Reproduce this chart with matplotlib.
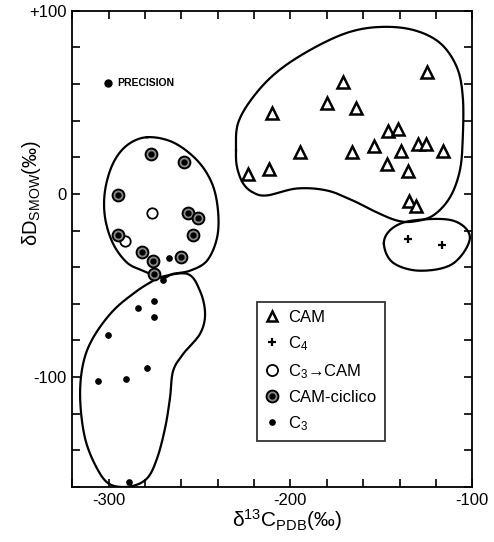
import numpy as np
import matplotlib
matplotlib.use("Agg")
import matplotlib.pyplot as plt
from matplotlib.lines import Line2D

plt.rcParams['font.family'] = ['Liberation Sans', 'DejaVu Sans']
plt.rcParams['mathtext.fontset'] = 'custom'
plt.rcParams['mathtext.rm'] = 'Liberation Sans'
plt.rcParams['mathtext.it'] = 'Liberation Sans:italic'
plt.rcParams['mathtext.bf'] = 'Liberation Sans:bold'

# ---- data (delta13C, deltaD) ----
cam_x = [-125.1, -170.9, -180.1, -164.1, -210.3, -146.5, -141.0, -194.7, -166.3, -153.9,
         -139.2, -130.1, -125.5, -116.3, -146.7, -135.2, -211.6, -223.1, -134.8, -131.0]
cam_y = [66.7, 61.3, 49.8, 47.2, 44.3, 34.2, 35.7, 22.9, 22.9, 26.2,
         23.5, 27.1, 27.1, 23.3, 16.2, 12.5, 13.8, 10.7, -3.6, -6.8]

c4_x = [-135.2, -116.9]
c4_y = [-24.5, -27.8]

c3cam_x = [-276.2, -290.9]
c3cam_y = [-10.5, -25.5]

camcic_x = [-276.6, -258.3, -294.6, -256.4, -250.6, -253.7, -294.6, -281.4, -275.3, -260.1, -274.8]
camcic_y = [22.0, 17.4, -0.3, -10.5, -13.0, -22.2, -22.2, -31.9, -36.4, -34.6, -43.7]

c3_x = [-266.7, -269.8, -274.8, -283.6, -274.9, -300.4, -278.6, -290.2, -305.9, -288.5]
c3_y = [-35.2, -47.0, -58.4, -62.4, -67.0, -77.0, -94.9, -100.9, -102.2, -157.4]

precision = (-300.2, 60.5)

# hand drawn group outlines (control points, closed)
cam_blob = [(-229.9, 23.8), (-228.8, 38.6), (-220.5, 52.9), (-207.4, 66.6), (-189.2, 78.6),
            (-168.9, 88.0), (-150.8, 91.2), (-132.6, 89.6), (-117.8, 82.5), (-108.5, 69.3),
            (-105.2, 52.9), (-105.2, 31.0), (-106.8, 12.9), (-112.3, -1.9), (-121.6, -11.8),
            (-132.6, -15.1), (-141.4, -14.5), (-152.4, -10.1), (-165.6, -3.6), (-179.9, 1.9),
            (-196.4, 3.0), (-212.9, -0.8), (-220.5, 0.8), (-226.0, 5.8), (-229.3, 14.5)]
c4_blob = [(-148.6, -27.1), (-144.2, -18.9), (-132.6, -14.5), (-110.7, -14.5), (-101.3, -23.8),
           (-110.7, -38.1), (-128.8, -41.9), (-143.6, -37.5)]
camcic_blob = [(-278.8, 31.0), (-264.5, 28.2), (-251.3, 18.4), (-243.1, 5.8), (-239.8, -9.0),
               (-240.3, -23.8), (-245.8, -36.4), (-255.2, -41.9), (-264.5, -43.6), (-270.5, -45.8),
               (-281.0, -41.9), (-289.8, -37.5), (-297.5, -27.1), (-301.9, -12.9), (-301.9, 1.9),
               (-297.5, 16.7), (-289.8, 26.6)]
c3_blob = [(-273.3, -45.8), (-256.8, -43.6), (-249.7, -52.9), (-246.9, -65.5), (-249.7, -76.4),
           (-259.0, -87.4), (-264.5, -96.7), (-266.2, -111.5), (-268.9, -127.9), (-273.3, -144.4),
           (-278.8, -155.3), (-288.1, -159.7), (-299.1, -158.6), (-306.3, -149.9), (-312.9, -133.4),
           (-315.6, -111.5), (-314.0, -92.9), (-308.5, -78.6), (-297.5, -63.8), (-284.3, -52.9),
           (-275.5, -47.4)]


def closed_spline(pts, n=20):
    # periodic Catmull-Rom through the control points
    p = np.asarray(pts, dtype=float)
    m = len(p)
    out = []
    t = np.linspace(0, 1, n, endpoint=False)[:, None]
    for i in range(m):
        p0, p1, p2, p3 = p[i - 1], p[i], p[(i + 1) % m], p[(i + 2) % m]
        seg = 0.5 * ((2 * p1) + (-p0 + p2) * t + (2 * p0 - 5 * p1 + 4 * p2 - p3) * t ** 2
                     + (-p0 + 3 * p1 - 3 * p2 + p3) * t ** 3)
        out.append(seg)
    out = np.vstack(out)
    return np.vstack([out, out[:1]])


fig = plt.figure(figsize=(4.94, 5.42), dpi=100)
ax = fig.add_axes([0.146, 0.1015, 0.81, 0.8785])

for blob in [cam_blob, c4_blob, camcic_blob, c3_blob]:
    s = closed_spline(blob)
    ax.plot(s[:, 0], s[:, 1], color='black', lw=1.6, zorder=2)

ax.plot(cam_x, cam_y, ls='none', marker='^', ms=8, mfc='white', mec='black', mew=1.8, zorder=3)
ax.plot(c4_x, c4_y, ls='none', marker='+', ms=6, mec='black', mew=1.6, zorder=3)
ax.plot(c3cam_x, c3cam_y, ls='none', marker='o', ms=7.5, mfc='white', mec='black', mew=1.3, zorder=3)
ax.plot(camcic_x, camcic_y, ls='none', marker='o', ms=8.5, mfc='#8a8a8a', mec='black', mew=1.4, zorder=3)
ax.plot(camcic_x, camcic_y, ls='none', marker='o', ms=3.5, mfc='black', mec='black', zorder=4)
ax.plot(c3_x, c3_y, ls='none', marker='o', ms=3.8, mfc='black', mec='black', zorder=3)

ax.plot([precision[0]], [precision[1]], ls='none', marker='o', ms=5, mfc='black', mec='black')
ax.text(precision[0] + 5, precision[1], 'PRECISION', fontsize=7.5, va='center', ha='left',
        fontweight='bold')

# legend
h_cam = Line2D([], [], ls='none', marker='^', ms=7, mfc='white', mec='black', mew=1.8)
h_c4 = Line2D([], [], ls='none', marker='+', ms=6, mec='black', mew=1.6)
h_c3cam = Line2D([], [], ls='none', marker='o', ms=8, mfc='white', mec='black', mew=1.3)
h_cic1 = Line2D([], [], ls='none', marker='o', ms=8.5, mfc='#8a8a8a', mec='black', mew=1.4)
h_cic2 = Line2D([], [], ls='none', marker='o', ms=3.5, mfc='black', mec='black')
h_c3 = Line2D([], [], ls='none', marker='o', ms=3.8, mfc='black', mec='black')
leg = ax.legend([h_cam, h_c4, h_c3cam, (h_cic1, h_cic2), h_c3],
                ['CAM', 'C$_4$', 'C$_3$\u2192CAM', 'CAM-ciclico', 'C$_3$'],
                loc='upper left', bbox_to_anchor=(0.4625, 0.389), borderaxespad=0,
                fontsize=12, frameon=True, fancybox=False, edgecolor='black',
                labelspacing=0.55, handlelength=0.8, handletextpad=0.55, borderpad=0.5)
leg.get_frame().set_linewidth(1.3)

ax.set_xlim(-320, -100)
ax.set_ylim(-160, 100)
ax.set_xticks([-300, -200, -100])
ax.set_xticklabels(['-300', '-200', '-100'])
ax.set_yticks([-100, 0, 100])
ax.set_yticklabels(['-100', '0', '+100'])
ax.set_xticks(np.arange(-320, -99, 20), minor=True)
ax.set_yticks(np.arange(-160, 101, 20), minor=True)
ax.tick_params(which='both', direction='in', top=True, right=True, length=6, width=1.2,
               labelsize=12, pad=4)
for sp in ax.spines.values():
    sp.set_linewidth(1.3)

ax.set_xlabel('\u03b4$^{13}$C$_{\\mathrm{PDB}}$(\u2030)', fontsize=15)
ax.set_ylabel('\u03b4D$_{\\mathrm{SMOW}}$(\u2030)', fontsize=14.5)
ax.xaxis.set_label_coords(0.5375, -0.042)
ax.yaxis.set_label_coords(-0.0725, 0.618)

fig.savefig('out.png', dpi=100)
